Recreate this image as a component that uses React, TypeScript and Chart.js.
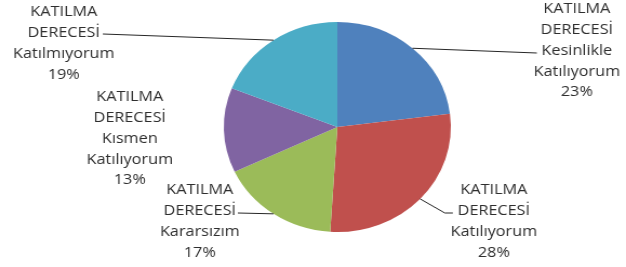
import React, { useEffect, useRef } from "react";
import { Chart, registerables } from "chart.js";

Chart.register(...registerables);

const categories = [
  "KATILMA DERECESİ Kesinlikle Katılıyorum",
  "KATILMA DERECESİ Katılıyorum",
  "KATILMA DERECESİ Kararsızım",
  "KATILMA DERECESİ Kısmen Katılıyorum",
  "KATILMA DERECESİ Katılmıyorum",
];
const values = [23, 28, 17, 13, 19];
const colors = ["#4F81BD", "#C0504D", "#9BBB59", "#8064A2", "#4BACC6"];

// horizontal stretch of the reference picture
const SX = 1.081;
const W = 626;
const H = 267;
const IW = Math.round(W / SX);

// label layout: offsets (screen px) from the pie centre
const labelLayout = [
  { cx: 239.5, top: -118, leader: [[199.5, -74]] },
  { cx: 156.5, top: 63, leader: [[107.5, 86], [115.5, 86]] },
  { cx: -137.5, top: 63, leader: [[-99.5, 86]] },
  { cx: -207.5, top: -30, leader: [] },
  { cx: -273.5, top: -115, leader: [[-234.5, -93]] },
];
const LINE_H = 20.8;
const TEXT_COLOR = "#2e2e2e";

const labelPlugin = {
  id: "pieLabels",
  afterDraw(chart: any) {
    const ctx = chart.ctx;
    const meta = chart.getDatasetMeta(0);
    const total = values.reduce((a, b) => a + b, 0);
    ctx.save();
    meta.data.forEach((arc: any, i: number) => {
      const { x, y, outerRadius, startAngle, endAngle } = arc.getProps(
        ["x", "y", "outerRadius", "startAngle", "endAngle"],
        true
      );
      const lay = labelLayout[i];
      const mid = (startAngle + endAngle) / 2;
      if (lay.leader.length) {
        ctx.beginPath();
        ctx.strokeStyle = "#262626";
        ctx.lineWidth = 1;
        ctx.moveTo(x + Math.cos(mid) * outerRadius, y + Math.sin(mid) * outerRadius);
        lay.leader.forEach((p) => ctx.lineTo(x + p[0] / SX, y + p[1]));
        ctx.stroke();
      }
      const lines = categories[i].split(" ");
      lines.push(Math.round((values[i] / total) * 100) + "%");
      ctx.fillStyle = TEXT_COLOR;
      ctx.font = '15px "Open Sans"';
      ctx.textAlign = "center";
      ctx.textBaseline = "middle";
      lines.forEach((t, k) => {
        ctx.fillText(t, x + lay.cx / SX, y + lay.top + k * LINE_H);
      });
    });
    ctx.restore();
  },
};

export default function App() {
  const ref = useRef<HTMLCanvasElement | null>(null);
  useEffect(() => {
    if (!ref.current) return;
    const chart = new Chart(ref.current, {
      type: "pie",
      data: {
        labels: categories,
        datasets: [
          {
            data: values,
            backgroundColor: colors,
            borderWidth: 0,
          },
        ],
      },
      options: {
        responsive: false,
        maintainAspectRatio: false,
        animation: false,
        layout: { padding: { left: 207, right: 162, top: 22, bottom: 35 } },
        plugins: {
          legend: { display: false },
          tooltip: { enabled: false },
        },
      },
      plugins: [labelPlugin],
    });
    return () => chart.destroy();
  }, []);
  return (
    <div style={{ position: "absolute", left: 0, top: 0, width: W, height: H, background: "#fff" }}>
      <canvas
        ref={ref}
        width={IW}
        height={H}
        style={{ width: W + "px", height: H + "px", display: "block" }}
      />
    </div>
  );
}
